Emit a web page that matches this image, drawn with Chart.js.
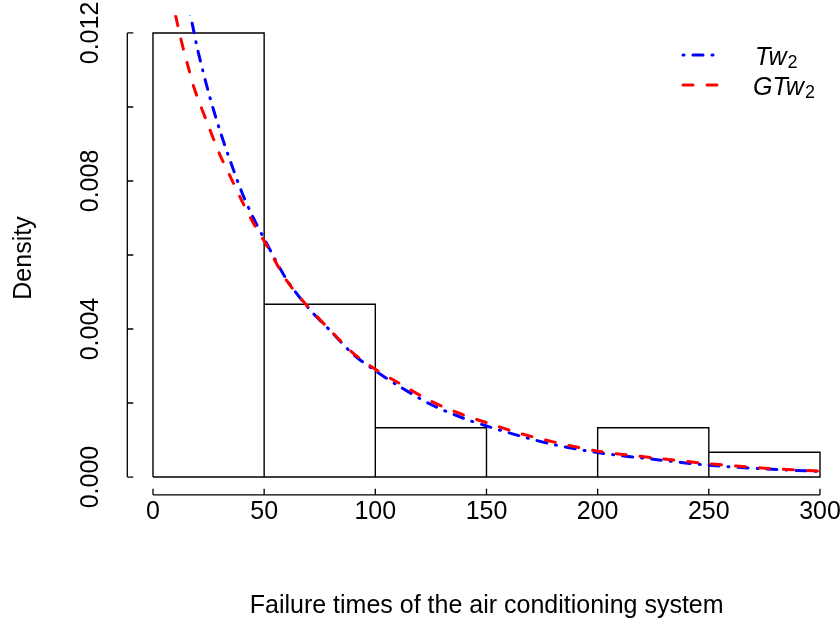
<!DOCTYPE html>
<html>
<head>
<meta charset="utf-8">
<script src="https://cdn.jsdelivr.net/npm/chart.js@4.4.1/dist/chart.umd.min.js"></script>
<style>
html, body { margin: 0; padding: 0; background: #fff; }
</style>
</head>
<body>
<canvas id="chart" width="840" height="618"></canvas>
<script>
// histogram of failure times (density scale)
const binEdges = [0, 50, 100, 150, 200, 250, 300];
const binDensity = [0.0120, 0.00467, 0.00133, 0, 0.00133, 0.00067];

// fitted densities
const tw2X = [14, 16, 18, 20, 25, 30, 35, 40, 45, 50, 60, 70, 80, 90, 100, 110, 125, 140, 150, 165, 180, 200, 225, 250, 275, 300];
const tw2Y = [0.0133, 0.01272, 0.01215, 0.01157, 0.01039, 0.00938, 0.00850, 0.00769, 0.00702, 0.00644, 0.00535, 0.00456, 0.00394, 0.00332, 0.00287, 0.00248, 0.00196, 0.00158, 0.00138, 0.00111, 0.00088, 0.00066, 0.00048, 0.00032, 0.00022, 0.00015];

const gtw2X = [8, 10, 12, 14, 16, 18, 20, 25, 30, 35, 40, 45, 50, 60, 70, 80, 90, 100, 110, 125, 140, 150, 165, 180, 200, 225, 250, 275, 300];
const gtw2Y = [0.0131, 0.01252, 0.01198, 0.01149, 0.01105, 0.01061, 0.01026, 0.00948, 0.00872, 0.00809, 0.00746, 0.00688, 0.00638, 0.00532, 0.00458, 0.00395, 0.00335, 0.00291, 0.00256, 0.00205, 0.00167, 0.00147, 0.00118, 0.00095, 0.00070, 0.00052, 0.00036, 0.00024, 0.00016];

const xTicks = [0, 50, 100, 150, 200, 250, 300];
const yTicks = [0, 0.002, 0.004, 0.006, 0.008, 0.010, 0.012];
const yLabelTicks = [0, 0.004, 0.008, 0.012];

const FONT = "'Liberation Sans', Arial, sans-serif";

// outline of the histogram rectangles as one polyline
function histPoints(){
  const pts = [{x: binEdges[0], y: 0}];
  for(let i=0;i<binDensity.length;i++){
    pts.push({x: binEdges[i], y: binDensity[i]});
    pts.push({x: binEdges[i+1], y: binDensity[i]});
    pts.push({x: binEdges[i+1], y: 0});
  }
  pts.push({x: binEdges[0], y: 0});
  return pts;
}

const zip = (xs, ys) => xs.map((v,i) => ({x: v, y: ys[i]}));

// R-like axes, labels and legend
const rStyle = {
  id: "rStyle",
  afterDraw(chart){
    const {ctx, chartArea: area} = chart;
    const x = chart.scales.x, y = chart.scales.y;
    ctx.save();
    ctx.strokeStyle = "#000";
    ctx.fillStyle = "#000";
    ctx.lineWidth = 1.3;

    // x axis
    const yAx = area.bottom;
    ctx.beginPath();
    ctx.moveTo(x.getPixelForValue(xTicks[0]), yAx);
    ctx.lineTo(x.getPixelForValue(xTicks[xTicks.length-1]), yAx);
    xTicks.forEach(v => {
      const px = x.getPixelForValue(v);
      ctx.moveTo(px, yAx); ctx.lineTo(px, yAx - 6);
    });
    ctx.stroke();

    // y axis
    const xAx = area.left + 1;
    ctx.beginPath();
    ctx.moveTo(xAx, y.getPixelForValue(yTicks[0]));
    ctx.lineTo(xAx, y.getPixelForValue(yTicks[yTicks.length-1]));
    yTicks.forEach(v => {
      const py = y.getPixelForValue(v);
      ctx.moveTo(xAx, py); ctx.lineTo(xAx + 6, py);
    });
    ctx.stroke();

    ctx.font = "25px " + FONT;
    ctx.textAlign = "center";
    ctx.textBaseline = "alphabetic";
    xTicks.forEach(v => ctx.fillText(String(v), x.getPixelForValue(v), 519));

    yLabelTicks.forEach(v => {
      ctx.save();
      ctx.translate(98, y.getPixelForValue(v));
      ctx.rotate(-Math.PI/2);
      ctx.fillText(v.toFixed(3), 0, 0);
      ctx.restore();
    });

    // axis titles
    ctx.fillText("Failure times of the air conditioning system", (area.left + 847)/2, 613);
    ctx.save();
    ctx.translate(31, 258);
    ctx.rotate(-Math.PI/2);
    ctx.fillText("Density", 0, 0);
    ctx.restore();

    // legend
    const legendRows = [
      {ds: chart.data.datasets[1], main: "Tw", y: 55, textX: 755},
      {ds: chart.data.datasets[0], main: "GTw", y: 85, textX: 753}
    ];
    legendRows.forEach(r => {
      ctx.save();
      ctx.strokeStyle = r.ds.borderColor;
      ctx.lineWidth = r.ds.borderWidth;
      ctx.lineCap = "round";
      ctx.setLineDash(r.ds.borderDash);
      ctx.beginPath();
      ctx.moveTo(683, r.y); ctx.lineTo(719, r.y);
      ctx.stroke();
      ctx.restore();
      ctx.textAlign = "left";
      ctx.font = "italic 25px " + FONT;
      ctx.fillText(r.main, r.textX, r.y + 10);
      const w = ctx.measureText(r.main).width;
      ctx.font = "18px " + FONT;
      ctx.fillText("2", r.textX + w + 1, r.y + 13);
    });
    ctx.restore();
  }
};

new Chart(document.getElementById("chart"), {
  type: "line",
  data: {
    datasets: [
      {
        label: "GTw2",
        data: zip(gtw2X, gtw2Y),
        borderColor: "#ff0000",
        borderWidth: 3,
        borderDash: [10, 14],
        borderCapStyle: "round",
        pointRadius: 0,
        tension: 0.3,
        fill: false
      },
      {
        label: "Tw2",
        data: zip(tw2X, tw2Y),
        borderColor: "#0000ff",
        borderWidth: 3,
        borderDash: [1, 9, 10, 9],
        borderCapStyle: "round",
        pointRadius: 0,
        tension: 0.3,
        fill: false
      },
      {
        label: "hist",
        data: histPoints(),
        borderColor: "#000",
        borderWidth: 1.4,
        pointRadius: 0,
        tension: 0,
        fill: false
      }
    ]
  },
  options: {
    responsive: false,
    animation: false,
    layout: { padding: { left: 126.3, right: 0, top: 15.2, bottom: 123.2 } },
    plugins: { legend: { display: false }, tooltip: { enabled: false } },
    scales: {
      x: { type: "linear", min: -12, max: 309, display: false },
      y: { type: "linear", min: -0.00048, max: 0.01248, display: false }
    }
  },
  plugins: [rStyle]
});
</script>
</body>
</html>
